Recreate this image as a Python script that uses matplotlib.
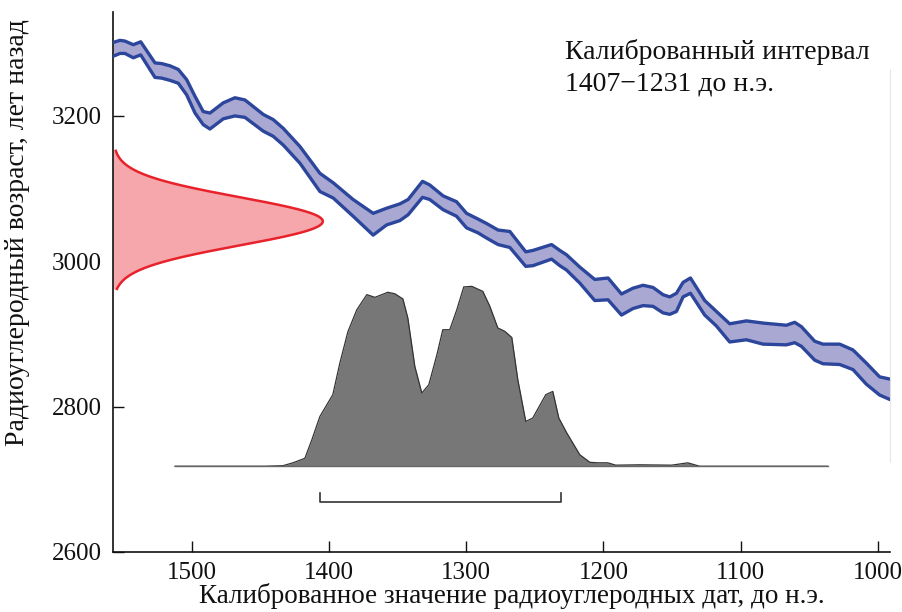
import numpy as np
import matplotlib
matplotlib.use("Agg")
import matplotlib.pyplot as plt

plt.rcParams['font.family'] = ['Liberation Serif', 'DejaVu Serif']

# ---- calibration curve (IntCal band), calendar years BC ----
cal_x = [1557.6, 1552.5, 1548.9, 1542.8, 1537.4, 1527.0, 1522.1, 1516.1, 1510.0, 1503.9,
         1497.8, 1491.8, 1486.9, 1477.2, 1468.7, 1461.4, 1448.0, 1440.8, 1433.5, 1421.3,
         1406.7, 1397.0, 1382.5, 1367.9, 1358.1, 1348.4, 1342.4, 1331.9, 1326.6, 1316.9,
         1307.1, 1299.8, 1291.3, 1285.2, 1276.8, 1268.2, 1256.6, 1251.3, 1237.8, 1231.8,
         1226.9, 1217.2, 1206.3, 1196.6, 1186.8, 1178.4, 1171.1, 1163.8, 1156.5, 1151.6,
         1146.7, 1141.9, 1136.5, 1126.1, 1117.6, 1107.9, 1095.7, 1083.6, 1066.6, 1060.5,
         1055.6, 1045.9, 1039.9, 1027.7, 1018.0, 1008.3, 998.6, 991.3]
cal_upper = [3301, 3304, 3303, 3298, 3302, 3273, 3272, 3269, 3264, 3250,
             3227, 3206, 3204, 3218, 3225, 3222, 3202, 3195, 3183, 3158,
             3121, 3108, 3085, 3066, 3073, 3079, 3085, 3110, 3105, 3090,
             3082, 3066, 3058, 3052, 3043, 3041, 3013, 3015, 3023, 3015,
             3009, 2992, 2975, 2977, 2955, 2963, 2967, 2964, 2954, 2951,
             2956, 2971, 2977, 2946, 2931, 2914, 2918, 2915, 2912, 2916,
             2910, 2890, 2886, 2886, 2878, 2860, 2841, 2838]
cal_lower = [3282, 3286, 3286, 3280, 3284, 3253, 3252, 3249, 3245, 3229,
             3204, 3188, 3182, 3196, 3200, 3198, 3179, 3172, 3160, 3135,
             3096, 3087, 3062, 3036, 3050, 3056, 3064, 3088, 3085, 3071,
             3062, 3046, 3039, 3032, 3023, 3019, 2993, 2994, 3003, 2994,
             2988, 2970, 2946, 2947, 2926, 2935, 2939, 2938, 2929, 2927,
             2931, 2951, 2956, 2926, 2911, 2889, 2892, 2886, 2885, 2888,
             2883, 2864, 2859, 2858, 2851, 2831, 2816, 2810]

# ---- radiocarbon measurement (BP) ----
rc_age = 3055
rc_err = 33
rc_range = (2962, 3152)

# ---- calibrated probability distribution ----
prob_x = [1512.4, 1446.8, 1433.7, 1426.4, 1417.7, 1412.6, 1406.7, 1397.3, 1392.1, 1386.3,
          1379.8, 1372.5, 1366.6, 1357.2, 1352.1, 1346.2, 1342.6, 1337.5, 1332.4, 1327.3,
          1321.4, 1317.1, 1312.0, 1306.9, 1301.8, 1295.9, 1287.9, 1282.8, 1277.0, 1271.9,
          1266.8, 1262.4, 1256.6, 1251.5, 1242.0, 1236.9, 1232.5, 1226.7, 1217.2, 1209.9,
          1204.1, 1196.8, 1191.0, 1173.5, 1150.2, 1138.5, 1129.8, 1036.5]
prob_y = [0.0, 0.0, 0.003, 0.019, 0.044, 0.147, 0.277, 0.398, 0.576, 0.748,
          0.870, 0.954, 0.939, 0.967, 0.959, 0.930, 0.824, 0.555, 0.407, 0.453,
          0.620, 0.759, 0.759, 0.870, 0.997, 1.0, 0.972, 0.889, 0.769, 0.750,
          0.716, 0.481, 0.249, 0.268, 0.398, 0.416, 0.268, 0.185, 0.064, 0.022,
          0.019, 0.019, 0.006, 0.008, 0.006, 0.019, 0.0, 0.0]

# ---- calibrated interval ----
interval = (1407, 1231)

x_ticks = [1500, 1400, 1300, 1200, 1100, 1000]
y_ticks = [2600, 2800, 3000, 3200]

xlim = (1557.6, 991.0)
ylim = (2600, 3343)

fig = plt.figure(figsize=(9.02, 6.12), dpi=100)
ax = fig.add_axes([113/902, 1 - 552/612, (890 - 113)/902, (552 - 12)/612])
ax.set_xlim(*xlim)
ax.set_ylim(*ylim)

# calibration band
ax.fill_between(cal_x, cal_lower, cal_upper, color='#a9a8d3', lw=0, zorder=2)
ax.plot(cal_x, cal_upper, color='#2c469c', lw=2.4, zorder=3, solid_joinstyle='round')
ax.plot(cal_x, cal_lower, color='#2c469c', lw=2.4, zorder=3, solid_joinstyle='round')

# radiocarbon age distribution on y axis
yy = np.linspace(rc_range[0], rc_range[1], 400)
dens = np.exp(-0.5 * ((yy - rc_age) / rc_err) ** 2)
width_yrs = 153.0
xx = xlim[0] - dens * width_yrs
ax.fill_betweenx(yy, xlim[0], xx, color='#f5a7ac', lw=0, zorder=2)
ax.plot(xx, yy, color='#e8222b', lw=1.8, zorder=3)

# calibrated probability distribution
base = 2718
scale = 247.5
py = base + np.array(prob_y) * scale
ax.fill_between(prob_x, base, py, color='#777777', lw=0, zorder=2)
ax.plot(prob_x, py, color='#333333', lw=0.9, zorder=3)
ax.plot([prob_x[0], prob_x[-1]], [base, base], color='#666666', lw=1.0, zorder=3)

# interval bracket
bx0, bx1 = interval
ax.plot([bx0, bx0, bx1, bx1], [2681, 2669, 2669, 2681], color='#333333', lw=1.2, zorder=3)

# faint right line
ax.plot([xlim[1], xlim[1]], [2724, 3265], color='#e6e6e6', lw=0.8, zorder=1, clip_on=False)

ax.spines['top'].set_visible(False)
ax.spines['right'].set_visible(False)
for s in ('left', 'bottom'):
    ax.spines[s].set_linewidth(1.2)
    ax.spines[s].set_color('#111111')

ax.set_xticks(x_ticks)
ax.set_yticks(y_ticks)
ax.set_xticklabels([str(t) for t in x_ticks])
ax.set_yticklabels([str(t) for t in y_ticks])
ax.tick_params(axis='both', direction='in', length=8, width=1.0, labelsize=18, colors='#111111')
ax.tick_params(axis='x', pad=7)
ax.tick_params(axis='y', pad=8)

fig.text(512/902, 3/612, 'Калиброванное значение радиоуглеродных дат, до н.э.',
         ha='center', va='bottom', fontsize=19.5, color='#111111')
fig.text(18/902, 1 - 233/612, 'Радиоуглеродный возраст, лет назад',
         ha='center', va='center', rotation=90, fontsize=20, color='#111111')

fig.text(565/902, 1 - 52/612, 'Калиброванный интервал', ha='left', va='center',
         fontsize=20, color='#111111')
fig.text(565/902, 1 - 84/612, '1407\u22121231 до н.э.', ha='left', va='center',
         fontsize=20, color='#111111')

fig.savefig('out.png', dpi=100)
